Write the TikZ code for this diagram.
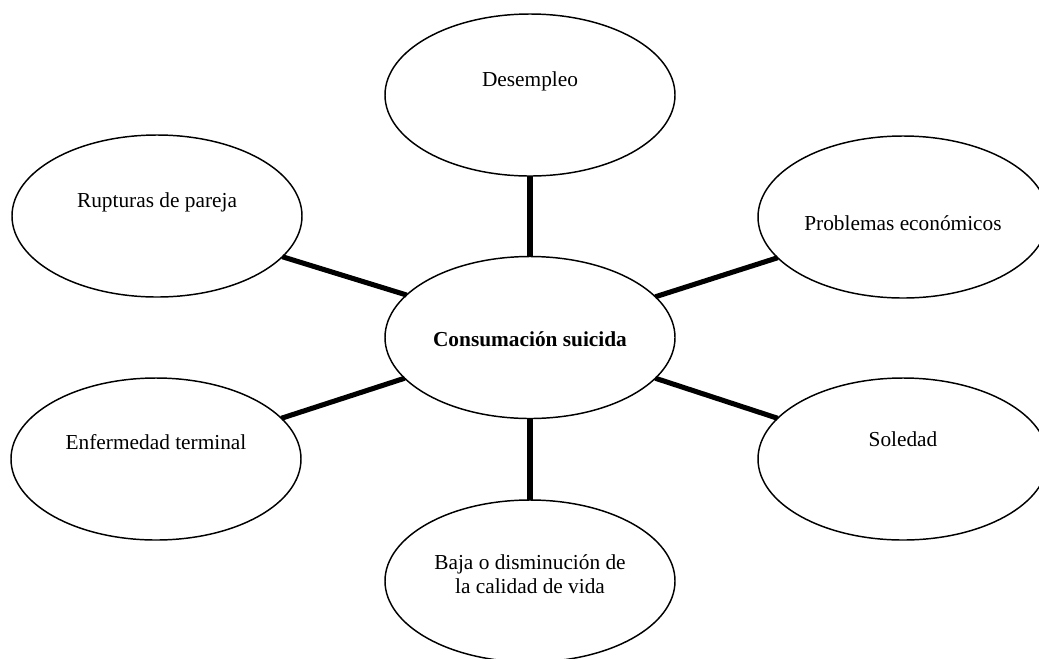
\documentclass[tikz,border=0pt]{standalone}
\usepackage{fontspec}
\setmainfont{Liberation Serif}
\usetikzlibrary{shapes.geometric}
\begin{document}
\begin{tikzpicture}[x=0.75pt,y=-0.75pt,
  bub/.style={draw, ellipse, line width=1.1pt, minimum width=217.5pt, minimum height=121.5pt, inner sep=0pt, outer sep=0pt, fill=white},
  lab/.style={font=\fontsize{16}{17.5}\selectfont, align=center, inner sep=0pt},
  link/.style={line width=3.8pt}]
\useasboundingbox (0,0) rectangle (1039,658);
\clip (0,0) rectangle (1039,658);
\node[bub, label={[lab, yshift=10.5pt]center:Desempleo}] (des) at (530,95) {};
\node[bub, label={[lab, yshift=10.5pt]center:Rupturas de pareja}] (rup) at (157,216) {};
\node[bub, label={[lab, yshift=-4.5pt]center:Problemas económicos}] (pro) at (903,217) {};
\node[bub, label={[lab, yshift=-1.5pt]center:\textbf{Consumación suicida}}] (cen) at (530,337.5) {};
\node[bub, label={[lab, yshift=12.75pt]center:Enfermedad terminal}] (enf) at (156,459) {};
\node[bub, label={[lab, yshift=15pt]center:Soledad}] (sol) at (903,459) {};
\node[bub, label={[lab, yshift=5pt]center:Baja o disminución de\\la calidad de vida}] (baj) at (530,581) {};
\draw[link] (des.south) -- (cen.north);
\draw[link] (cen.south) -- (baj.north);
\draw[link] (rup.-18) -- (cen.161);
\draw[link] (enf.18) -- (cen.-162);
\draw[link] (cen.18) -- (pro.-162);
\draw[link] (cen.-18) -- (sol.162);
\end{tikzpicture}
\end{document}
